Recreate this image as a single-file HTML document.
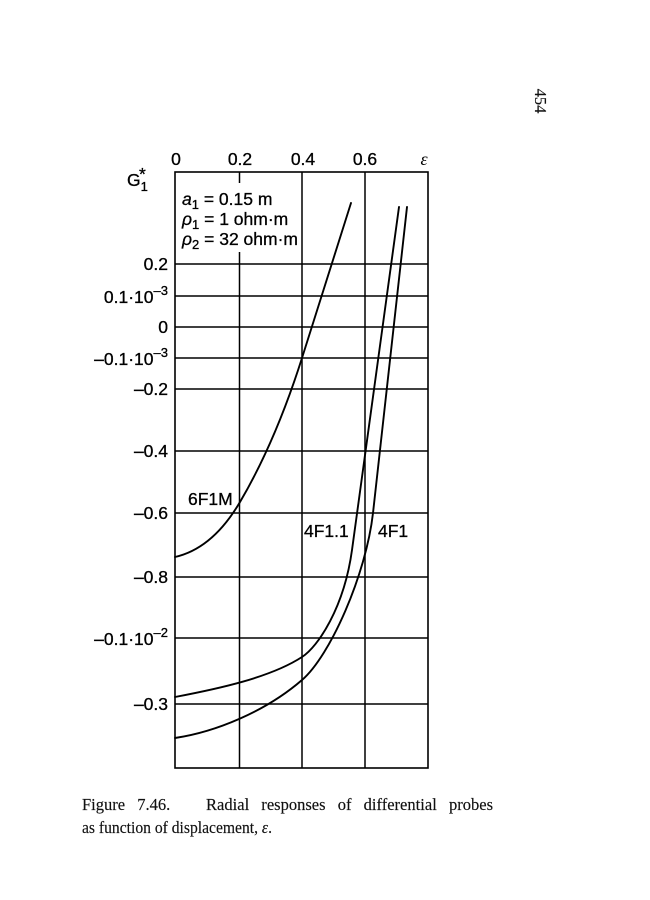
<!DOCTYPE html>
<html>
<head>
<meta charset="utf-8">
<style>
  html, body { margin:0; padding:0; background:#fff; }
  svg { display:block; }
  .lab { font-family:"Liberation Sans", "DejaVu Sans", sans-serif; font-size:17.5px; fill:#000; stroke:#000; stroke-width:0.3; }
  .cap { font-family:"Liberation Serif", "DejaVu Serif", serif; font-size:16.5px; fill:#111; stroke:#111; stroke-width:0.15; }
</style>
</head>
<body>
<svg width="650" height="900" viewBox="0 0 650 900" xmlns="http://www.w3.org/2000/svg">
  <rect width="650" height="900" fill="#fff"/>

  <!-- page number -->
  <text class="cap" font-size="17" transform="translate(541,101) rotate(90)" x="0" y="6" text-anchor="middle">454</text>

  <!-- grid: horizontal -->
  <g stroke="#000" stroke-width="1.5" fill="none">
    <line x1="175" y1="264" x2="428" y2="264"/>
    <line x1="175" y1="296" x2="428" y2="296"/>
    <line x1="175" y1="327" x2="428" y2="327"/>
    <line x1="175" y1="358" x2="428" y2="358"/>
    <line x1="175" y1="389" x2="428" y2="389"/>
    <line x1="175" y1="451" x2="428" y2="451"/>
    <line x1="175" y1="513" x2="428" y2="513"/>
    <line x1="175" y1="577" x2="428" y2="577"/>
    <line x1="175" y1="638" x2="428" y2="638"/>
    <line x1="175" y1="704" x2="428" y2="704"/>
    <!-- vertical -->
    <line x1="239.5" y1="172" x2="239.5" y2="183"/>
    <line x1="239.5" y1="252" x2="239.5" y2="768"/>
    <line x1="302" y1="172" x2="302" y2="768"/>
    <line x1="365" y1="172" x2="365" y2="768"/>
  </g>
  <!-- frame -->
  <rect x="175" y="172" width="253" height="596" fill="none" stroke="#000" stroke-width="1.6"/>

  <!-- curves -->
  <g stroke="#000" stroke-width="1.9" fill="none" stroke-linecap="round" stroke-linejoin="round">
    <!-- 6F1M -->
    <path d="M175,557 C197,552 220,536 240,502 C260,468 282,421 302,358 L351,203"/>
    <!-- 4F1.1 -->
    <path d="M175,697 C217,689 270,677.8 302,657 C318,646.6 344,608 352,550 L399,207"/>
    <!-- 4F1 -->
    <path d="M175,738 C215,732 265,712 302,680 C330,656 366,575 373,513 L407,207"/>
  </g>

  <!-- top axis labels -->
  <text class="lab" x="176" y="165" text-anchor="middle">0</text>
  <text class="lab" x="240" y="165" text-anchor="middle">0.2</text>
  <text class="lab" x="303" y="165" text-anchor="middle">0.4</text>
  <text class="lab" x="365" y="165" text-anchor="middle">0.6</text>
  <text x="424" y="165" text-anchor="middle" font-family="Liberation Serif, DejaVu Serif, serif" font-style="italic" font-size="18">ε</text>

  <!-- G1* -->
  <text class="lab" x="127" y="186">G<tspan font-size="13" dy="5">1</tspan></text>
  <text class="lab" x="139" y="180" font-size="13">*</text>

  <!-- legend text -->
  <text class="lab" x="182" y="205"><tspan font-style="italic">a</tspan><tspan font-size="13" dy="4">1</tspan><tspan dy="-4"> = 0.15 m</tspan></text>
  <text class="lab" x="182" y="225"><tspan font-style="italic">ρ</tspan><tspan font-size="13" dy="4">1</tspan><tspan dy="-4"> = 1 ohm·m</tspan></text>
  <text class="lab" x="182" y="245"><tspan font-style="italic">ρ</tspan><tspan font-size="13" dy="4">2</tspan><tspan dy="-4"> = 32 ohm·m</tspan></text>

  <!-- y axis labels -->
  <text class="lab" x="168" y="270" text-anchor="end">0.2</text>
  <text class="lab" x="168" y="303" text-anchor="end">0.1·10<tspan font-size="13" dy="-8">–3</tspan></text>
  <text class="lab" x="168" y="333" text-anchor="end">0</text>
  <text class="lab" x="168" y="365" text-anchor="end">–0.1·10<tspan font-size="13" dy="-8">–3</tspan></text>
  <text class="lab" x="168" y="395" text-anchor="end">–0.2</text>
  <text class="lab" x="168" y="457" text-anchor="end">–0.4</text>
  <text class="lab" x="168" y="519" text-anchor="end">–0.6</text>
  <text class="lab" x="168" y="583" text-anchor="end">–0.8</text>
  <text class="lab" x="168" y="645" text-anchor="end">–0.1·10<tspan font-size="13" dy="-8">–2</tspan></text>
  <text class="lab" x="168" y="710" text-anchor="end">–0.3</text>

  <!-- curve labels -->
  <text class="lab" x="188" y="505">6F1M</text>
  <text class="lab" x="304" y="537">4F1.1</text>
  <text class="lab" x="378" y="537">4F1</text>

  <!-- caption -->
  <text class="cap" x="82" y="810" word-spacing="8">Figure 7.46.</text>
  <text class="cap" x="206" y="810" word-spacing="8" textLength="287" lengthAdjust="spacing">Radial responses of differential probes</text>
  <text class="cap" x="82" y="833" textLength="190" lengthAdjust="spacingAndGlyphs">as function of displacement, <tspan font-style="italic">ε</tspan>.</text>
</svg>
</body>
</html>
